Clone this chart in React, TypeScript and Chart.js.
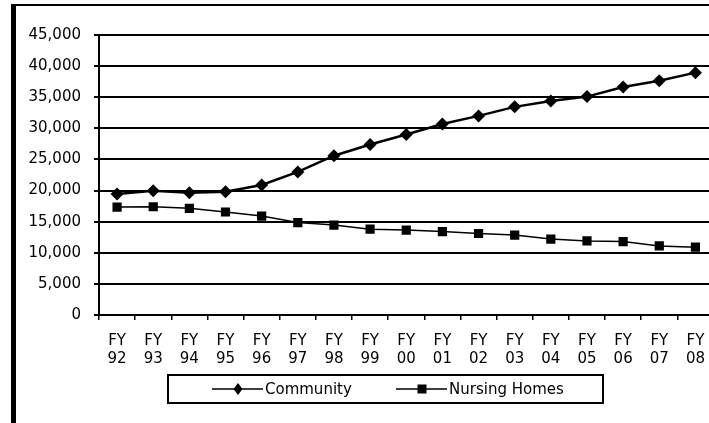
import React, { useEffect, useRef } from "react";
import { Chart, registerables } from "chart.js";

Chart.register(...registerables);

const fiscalYears = ["92", "93", "94", "95", "96", "97", "98", "99", "00", "01", "02", "03", "04", "05", "06", "07", "08"];
const community = [19450, 19950, 19650, 19800, 20900, 23000, 25600, 27400, 29000, 30700, 32000, 33450, 34400, 35100, 36650, 37650, 38950];
const nursingHomes = [17350, 17400, 17150, 16550, 15900, 14850, 14450, 13800, 13650, 13400, 13100, 12850, 12200, 11900, 11800, 11100, 10900];
const yTickLabels = ["0", "5,000", "10,000", "15,000", "20,000", "25,000", "30,000", "35,000", "40,000", "45,000"];
const seriesNames = ["Community", "Nursing Homes"];

const FONT = "'DejaVu Sans', sans-serif";

const framePlugin = {
  id: "frame",
  beforeDraw(chart: any) {
    const ctx = chart.ctx;
    ctx.save();
    ctx.fillStyle = "#fff";
    ctx.fillRect(0, 0, chart.width, chart.height);
    ctx.fillStyle = "#000";
    ctx.fillRect(11, 4, 5, chart.height - 4);
    ctx.fillRect(11, 4, chart.width - 11, 2);
    ctx.restore();
  },
};

const boxLegendPlugin = {
  id: "boxLegend",
  afterDraw(chart: any, _args: any, opts: any) {
    const ctx = chart.ctx;
    ctx.save();
    ctx.strokeStyle = "#000";
    ctx.lineWidth = 2;
    ctx.strokeRect(opts.box[0], opts.box[1], opts.box[2], opts.box[3]);
    const cy = opts.box[1] + opts.box[3] / 2;
    chart.data.datasets.forEach((ds: any, i: number) => {
      const x0 = opts.items[i];
      ctx.strokeStyle = "#000";
      ctx.lineWidth = 1.5;
      ctx.beginPath();
      ctx.moveTo(x0, cy);
      ctx.lineTo(x0 + 51, cy);
      ctx.stroke();
      const mx = x0 + 26;
      ctx.fillStyle = "#000";
      ctx.beginPath();
      if (ds.pointStyle === "rectRot") {
        ctx.moveTo(mx, cy - 6);
        ctx.lineTo(mx + 4.5, cy);
        ctx.lineTo(mx, cy + 6);
        ctx.lineTo(mx - 4.5, cy);
        ctx.closePath();
      } else {
        ctx.rect(mx - 4.5, cy - 4.5, 9, 9);
      }
      ctx.fill();
      ctx.font = `15px ${FONT}`;
      ctx.textBaseline = "middle";
      ctx.textAlign = "left";
      ctx.fillText(ds.label, x0 + 53, cy + 1);
    });
    ctx.restore();
  },
};

export default function App() {
  const canvasRef = useRef<HTMLCanvasElement | null>(null);

  useEffect(() => {
    const canvas = canvasRef.current;
    if (!canvas) return;
    const chart = new Chart(canvas, {
      type: "line",
      data: {
        labels: fiscalYears.map((y) => ["FY", y]),
        datasets: [
          {
            label: seriesNames[0],
            data: community,
            borderColor: "#000",
            backgroundColor: "#000",
            borderWidth: 2.5,
            pointStyle: "rectRot",
            pointRadius: 6.5,
            pointBorderWidth: 0,
            tension: 0,
          },
          {
            label: seriesNames[1],
            data: nursingHomes,
            borderColor: "#000",
            backgroundColor: "#000",
            borderWidth: 1.5,
            pointStyle: "rect",
            pointRadius: 6.5,
            pointBorderWidth: 0,
            tension: 0,
          },
        ],
      },
      options: {
        responsive: false,
        animation: false,
        layout: { padding: { left: 0, top: 35, right: 0, bottom: 0 } },
        plugins: {
          legend: { display: false },
          tooltip: { enabled: false },
          boxLegend: { box: [168, 375, 435, 28], items: [212, 396] },
        } as any,
        scales: {
          x: {
            type: "category",
            offset: true,
            afterFit: (s: any) => {
              s.height = 108;
            },
            grid: {
              offset: true,
              drawOnChartArea: false,
              drawTicks: true,
              tickLength: 5,
              color: "#000",
              lineWidth: 1.5,
            },
            border: { color: "#000", width: 2 },
            ticks: {
              color: "#000",
              font: { family: FONT, size: 15, lineHeight: 1.2 },
              padding: 12,
              maxRotation: 0,
              autoSkip: false,
            },
          },
          y: {
            min: 0,
            max: 45000,
            afterFit: (s: any) => {
              s.width = 99;
            },
            grid: {
              color: "#000",
              lineWidth: 2,
              tickLength: 5,
            },
            border: { color: "#000", width: 2 },
            ticks: {
              stepSize: 5000,
              color: "#000",
              font: { family: FONT, size: 15 },
              padding: 13,
              callback: (v: any) => yTickLabels[Math.round(Number(v) / 5000)],
            },
          },
        },
      },
      plugins: [framePlugin, boxLegendPlugin],
    });
    return () => chart.destroy();
  }, []);

  return (
    <div style={{ position: "fixed", left: 0, top: 0, width: 709, height: 423, overflow: "hidden", background: "#fff" }}>
      <canvas ref={canvasRef} width={720} height={423} style={{ display: "block", width: 720, height: 423 }} />
    </div>
  );
}
